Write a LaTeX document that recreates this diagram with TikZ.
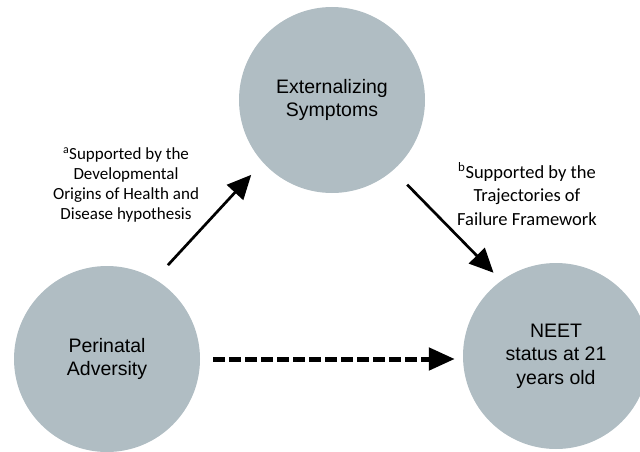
\documentclass[tikz,border=0pt]{standalone}
\usepackage{fontspec}
\setmainfont{Carlito}
\newfontfamily\bubblefont{Liberation Sans}
\usepackage{tikz}
\usetikzlibrary{arrows.meta,positioning,calc}
\definecolor{BubbleGray}{RGB}{176,189,195}
\tikzset{
  bubble/.style={circle,fill=BubbleGray,minimum size=186pt,inner sep=0pt,align=center,
                 font=\bubblefont\fontsize{19.5}{23.5}\selectfont},
  note/.style={align=center,inner sep=0pt,font=\fontsize{17}{20}\selectfont},
  link/.style={-{Triangle[length=24pt,width=22pt]},line width=2.7pt},
  weak/.style={-{Triangle[length=26pt,width=22pt]},line width=5pt,
               dash pattern=on 11.5pt off 4.5pt},
}

\begin{document}
\begin{tikzpicture}[x=1pt,y=-1pt]
  \useasboundingbox (0,0) rectangle (640,452);
  \node[bubble] (ext) at (332,100) {Externalizing\\Symptoms};
  \node[bubble] (perin) at (107,359) {Perinatal\\Adversity};
  \node[bubble] (neet) at (556,356) {NEET\\status at 21\\years old};
  \node[note] (doh) at (126,185) {\textsuperscript{a}Supported by the\\Developmental\\Origins of Health and\\Disease hypothesis};
  \node[note,font=\fontsize{18.5}{23.5}\selectfont] (tof) at (527,194) {\textsuperscript{b}Supported by the\\Trajectories of\\Failure Framework};
  \draw[link,shorten <=19pt,shorten >=17pt] (perin.59) -- (ext.222);
  \draw[link,shorten <=20pt,shorten >=11pt] (ext.311) -- (neet.126);
  \draw[weak,shorten <=13pt,shorten >=8pt] (perin.east) -- (perin.east -| neet.west);
\end{tikzpicture}
\end{document}
